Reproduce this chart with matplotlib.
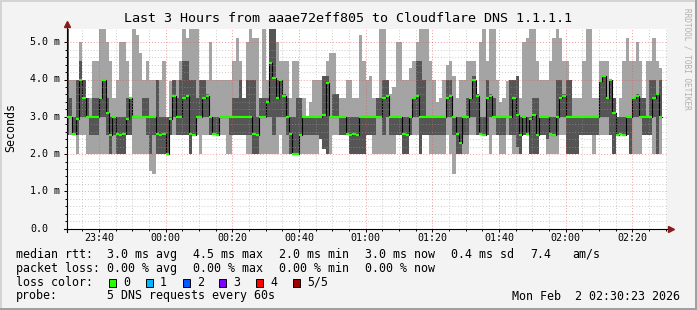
import numpy as np
import matplotlib
matplotlib.use("Agg")
import matplotlib.pyplot as plt
from matplotlib.patches import Rectangle
from matplotlib.transforms import blended_transform_factory

# one column per minute, first column = 23:30-23:31 (graph starts 23:30:23)
# values in ms; lo1/hi1 = outer (light) smoke, lo2/hi2 = inner (dark) smoke
med = [3.0, 3.0, 2.55, 2.95, 4.0, 3.5, 3.0, 3.0, 3.0, 3.0,
       3.5, 4.0, 3.1, 2.5, 3.0, 2.55, 2.5, 2.55, 2.95, 3.5,
       3.0, 3.0, 3.0, 3.0, 3.0, 3.0, 3.0, 2.55, 2.5, 2.55,
       2.0, 2.95, 3.55, 3.0, 3.0, 3.5, 3.55, 2.55, 2.5, 3.0,
       3.0, 3.5, 3.55, 3.0, 2.55, 2.5, 3.0, 3.0, 3.0, 3.0,
       3.0, 3.0, 3.0, 3.0, 3.0, 3.0, 2.55, 2.5, 3.0, 3.0,
       3.4, 4.45, 4.05, 3.5, 4.0, 3.55, 3.0, 2.55, 2.0, 2.0,
       2.5, 3.0, 3.0, 3.0, 3.0, 3.0, 3.0, 3.05, 3.9, 3.0,
       3.0, 3.0, 3.0, 3.0, 2.55, 2.5, 2.55, 2.5, 3.0, 3.0,
       3.0, 3.0, 3.0, 3.0, 3.0, 3.5, 3.55, 3.0, 3.0, 3.0,
       3.0, 2.55, 2.5, 3.0, 3.5, 3.55, 3.0, 3.0, 3.0, 3.0,
       3.0, 3.0, 3.0, 3.0, 3.5, 3.55, 3.0, 2.55, 2.3, 3.0,
       3.0, 3.5, 4.0, 3.55, 2.55, 2.5, 3.5, 3.55, 3.0, 3.0,
       3.0, 3.0, 3.0, 3.0, 3.5, 3.05, 2.5, 3.0, 2.55, 2.95,
       3.05, 2.5, 3.0, 3.0, 3.0, 2.55, 2.5, 3.0, 3.5, 3.55,
       3.0, 3.0, 3.0, 3.0, 3.0, 3.0, 3.0, 3.0, 3.0, 3.0,
       3.95, 4.1, 3.5, 4.0, 3.1, 2.5, 2.55, 2.5, 3.0, 3.0,
       3.5, 3.55, 3.0, 3.0, 3.0, 3.0, 3.5, 3.6, 3.0]

lo1 = [2.5, 2.5, 2.5, 2.0, 2.5, 2.5, 2.0, 2.0, 2.0, 2.0,
       2.0, 2.0, 2.0, 2.0, 2.0, 2.0, 2.0, 2.0, 2.5, 2.5,
       2.0, 2.0, 2.0, 2.0, 2.0, 1.55, 1.47, 2.0, 2.0, 2.0,
       2.0, 2.5, 2.5, 2.5, 2.5, 2.5, 2.5, 2.0, 2.5, 2.5,
       2.0, 2.5, 2.5, 2.5, 2.5, 2.5, 2.5, 2.5, 2.0, 2.0,
       2.5, 2.5, 2.5, 2.5, 2.0, 2.0, 2.0, 2.0, 2.0, 2.0,
       2.0, 2.0, 2.0, 2.0, 2.5, 2.0, 2.0, 2.0, 2.0, 2.0,
       2.0, 2.0, 2.0, 2.0, 2.0, 2.0, 2.4, 2.15, 2.0, 2.0,
       2.5, 2.5, 2.5, 2.5, 2.5, 2.0, 2.0, 2.0, 2.0, 2.0,
       2.5, 2.5, 2.0, 2.0, 2.0, 2.0, 2.0, 2.0, 2.0, 2.5,
       2.5, 2.0, 2.0, 2.5, 2.5, 2.5, 2.0, 2.5, 2.5, 2.0,
       2.0, 2.0, 2.0, 2.0, 2.5, 2.0, 1.47, 2.0, 2.0, 2.0,
       2.0, 2.5, 2.5, 2.5, 2.5, 2.5, 2.5, 2.0, 2.5, 2.5,
       2.0, 2.0, 2.5, 2.5, 2.0, 2.0, 2.0, 2.5, 2.5, 2.0,
       2.0, 2.0, 2.5, 2.5, 2.0, 2.0, 2.0, 2.0, 2.5, 2.5,
       2.0, 2.0, 2.0, 2.0, 2.5, 2.5, 2.5, 2.5, 2.0, 2.5,
       2.5, 2.5, 2.5, 2.5, 2.0, 2.5, 2.5, 2.5, 2.5, 2.0,
       2.0, 2.0, 2.0, 2.5, 2.5, 2.5, 2.0, 2.0, 2.0]

lo2 = [2.5, 3.0, 2.5, 2.5, 3.0, 3.0, 3.0, 2.5, 2.5, 2.5,
       3.0, 3.0, 2.5, 2.0, 2.5, 2.0, 2.0, 2.0, 2.5, 2.5,
       3.0, 3.0, 3.0, 3.0, 2.5, 2.0, 2.5, 2.0, 2.0, 2.0,
       2.0, 2.5, 3.0, 2.5, 2.5, 2.5, 2.5, 2.0, 2.5, 3.0,
       3.0, 3.0, 3.0, 2.5, 2.5, 2.5, 3.0, 3.0, 3.0, 2.5,
       2.5, 2.5, 2.5, 2.5, 2.5, 2.5, 2.0, 2.0, 3.0, 3.0,
       3.0, 3.0, 2.5, 3.0, 3.0, 3.0, 2.5, 2.0, 2.0, 2.0,
       2.5, 2.5, 2.5, 2.5, 2.5, 2.5, 2.4, 2.15, 2.0, 3.0,
       3.0, 3.0, 2.5, 2.5, 2.5, 2.0, 2.0, 2.0, 2.0, 2.0,
       2.5, 2.5, 2.5, 3.0, 3.0, 2.5, 3.0, 2.5, 2.5, 2.5,
       2.5, 2.0, 2.0, 2.5, 3.0, 3.0, 2.0, 2.5, 2.5, 2.5,
       2.5, 2.5, 2.5, 2.5, 3.0, 3.0, 2.5, 2.0, 2.0, 2.5,
       2.5, 3.0, 3.0, 2.5, 2.5, 2.5, 2.5, 3.0, 3.0, 2.5,
       2.5, 2.5, 3.0, 2.5, 2.5, 2.2, 2.0, 2.5, 2.5, 2.0,
       2.0, 2.0, 2.5, 2.5, 2.4, 2.5, 2.5, 2.5, 3.0, 3.0,
       2.0, 2.0, 2.0, 2.0, 2.5, 2.5, 2.5, 2.5, 2.5, 2.5,
       3.0, 3.0, 3.0, 2.5, 2.0, 2.5, 2.5, 2.5, 2.5, 2.0,
       3.0, 3.0, 3.0, 2.5, 2.5, 2.5, 3.0, 2.0, 3.0]

hi2 = [5.4, 3.5, 3.0, 4.0, 4.5, 4.0, 3.5, 3.0, 3.5, 3.5,
       3.5, 4.0, 3.5, 3.0, 3.0, 3.0, 3.0, 3.0, 3.5, 3.5,
       3.0, 3.0, 3.0, 3.5, 3.5, 3.0, 3.0, 4.0, 3.0, 3.0,
       3.0, 3.0, 4.0, 3.5, 4.0, 4.5, 4.5, 4.0, 4.0, 3.5,
       4.0, 4.0, 3.6, 3.0, 3.0, 3.0, 3.0, 3.0, 3.0, 3.0,
       3.5, 3.5, 4.0, 3.5, 4.0, 4.0, 4.0, 3.0, 3.5, 3.5,
       3.5, 5.4, 5.4, 4.0, 4.0, 3.6, 3.5, 3.0, 3.0, 3.5,
       3.5, 3.0, 3.0, 3.0, 3.0, 3.0, 3.0, 4.1, 4.1, 3.0,
       3.6, 3.6, 3.0, 3.0, 3.0, 3.0, 3.0, 3.0, 3.0, 3.0,
       3.0, 3.0, 3.0, 3.5, 3.5, 4.0, 4.0, 3.0, 3.0, 3.0,
       3.0, 3.0, 3.0, 3.0, 3.5, 4.5, 4.5, 4.0, 3.0, 3.0,
       3.0, 3.0, 3.0, 3.0, 4.0, 4.0, 3.0, 3.0, 3.0, 3.0,
       3.5, 3.5, 4.1, 3.6, 3.0, 3.0, 4.0, 3.6, 3.5, 3.0,
       3.0, 3.0, 3.0, 4.0, 4.0, 4.1, 3.0, 3.0, 3.0, 3.0,
       3.5, 3.5, 3.0, 3.0, 3.0, 3.0, 3.0, 4.0, 4.0, 3.6,
       4.0, 4.0, 3.0, 3.0, 3.0, 3.0, 3.0, 3.0, 3.0, 3.0,
       4.0, 4.1, 3.5, 4.0, 3.5, 3.0, 3.0, 3.0, 3.0, 3.0,
       3.5, 3.6, 3.5, 3.5, 3.0, 4.0, 4.0, 3.6, 4.0]

hi1 = [5.4, 4.0, 4.0, 4.0, 5.0, 4.0, 3.5, 3.5, 4.5, 4.5,
       5.4, 5.4, 5.0, 4.5, 3.5, 4.0, 5.0, 5.0, 4.5, 3.5,
       5.4, 5.2, 4.7, 4.0, 4.5, 4.0, 4.0, 4.0, 4.0, 4.5,
       3.0, 3.95, 4.0, 4.0, 4.5, 5.4, 5.1, 5.4, 5.4, 5.4,
       4.0, 4.0, 4.0, 5.0, 4.0, 4.0, 4.0, 4.0, 4.0, 4.0,
       4.5, 5.1, 4.5, 3.5, 5.0, 5.4, 5.1, 5.1, 3.5, 5.4,
       4.0, 5.4, 5.4, 5.0, 4.5, 4.5, 4.5, 3.5, 4.5, 4.5,
       3.5, 3.5, 3.0, 3.4, 4.0, 4.0, 4.0, 4.1, 4.5, 4.7,
       4.7, 3.6, 3.5, 3.5, 4.0, 4.0, 3.5, 3.5, 5.2, 4.5,
       4.0, 4.1, 3.5, 3.5, 5.4, 5.4, 4.0, 3.6, 3.8, 5.0,
       5.0, 4.0, 4.0, 4.3, 4.5, 5.0, 5.4, 5.4, 5.4, 4.5,
       4.0, 3.4, 3.5, 4.0, 4.4, 4.5, 4.1, 3.5, 4.0, 4.0,
       4.5, 4.5, 4.5, 3.6, 5.0, 5.4, 4.5, 5.4, 5.4, 4.0,
       3.4, 3.5, 3.95, 4.0, 4.0, 4.1, 3.5, 5.0, 5.1, 5.4,
       5.4, 4.5, 4.0, 4.0, 4.0, 4.5, 5.1, 5.4, 5.1, 4.5,
       4.5, 4.0, 3.5, 3.5, 3.5, 4.5, 5.4, 5.4, 3.5, 3.5,
       4.5, 4.5, 4.5, 4.0, 3.5, 3.0, 3.5, 4.5, 5.1, 4.5,
       4.5, 5.0, 4.5, 3.5, 4.5, 4.5, 5.1, 4.5, 4.3]

time_labels = ["23:40", "00:00", "00:20", "00:40", "01:00", "01:20", "01:40", "02:00", "02:20"]
y_labels = ["0.0", "1.0 m", "2.0 m", "3.0 m", "4.0 m", "5.0 m"]

legend_rows = [
    [(16, "median rtt:"), (107, "3.0 ms avg"), (193, "4.5 ms max"), (279, "2.0 ms min"),
     (365, "3.0 ms now"), (451, "0.4 ms sd"), (530, "7.4"), (572, "am/s")],
    [(16, "packet loss:"), (107, "0.00 % avg"), (193, "0.00 % max"), (279, "0.00 % min"),
     (365, "0.00 % now")],
]
loss_names = ["0", "1", "2", "3", "4", "5/5"]
loss_colors = ["#26ff00", "#00b8ff", "#0059ff", "#7e00ff", "#ff0000", "#a10000"]

W, H = 697, 310
MONO = "DejaVu Sans Mono"
plt.rcParams["font.family"] = MONO

fig = plt.figure(figsize=(W / 100, H / 100), dpi=100)
fig.patch.set_facecolor("#f3f3f3")
ax = fig.add_axes([67 / W, 1 - 228.7 / H, 600 / W, 200 / H])
ax.set_facecolor("white")
ymax = 200 / 37.3
ax.set_xlim(0, 180)
ax.set_ylim(0, ymax)

off = 23 / 60  # graph starts at 23:30:23
edges = np.arange(len(med) + 1) - off
ext = lambda a: np.r_[a, a[-1]]

ax.fill_between(edges, ext(lo1), ext(hi1), step="post", color="#a4a4a4", lw=0, zorder=1)
ax.fill_between(edges, ext(lo2), ext(hi2), step="post", color="#555555", lw=0, zorder=1.1)
ax.step(edges, ext(med), where="post", color="black", lw=0.8, zorder=2)
ax.hlines(med, edges[:-1], edges[1:], colors="#26ff00", lw=1.6, zorder=4)

# grid
major_x = 10 * np.arange(1, 18) - off
major_x = major_x[::2]
minor_x = 5 * np.arange(1, 37) - off
ax.set_xticks(major_x)
ax.set_xticks(minor_x, minor=True)
ax.set_yticks(np.arange(0, 6))
ax.set_yticks(np.arange(0, 26) * 0.2, minor=True)
ax.set_axisbelow(False)
ax.grid(which="minor", color="#a0a0a0", alpha=0.55, ls=(0, (1, 2)), lw=0.7)
ax.grid(which="major", color="#e05050", alpha=0.55, ls=(0, (1, 2)), lw=0.7)
ax.tick_params(which="both", labelleft=False, labelbottom=False, direction="out",
               color="black", width=0.7)
ax.tick_params(which="major", length=2.2)
ax.tick_params(which="minor", length=1.4)
for s in ax.spines.values():
    s.set_visible(False)

# axes with arrows
ax.plot([0, 0], [-0.015, 1.02], transform=ax.transAxes, color="black", lw=0.8, clip_on=False)
ax.plot([-0.005, 1.003], [0, 0], transform=ax.transAxes, color="black", lw=0.8, clip_on=False)
ax.plot([0], [1.025], marker="^", ms=4.5, color="#8b1a1a", transform=ax.transAxes, clip_on=False)
ax.plot([1.006], [0], marker=">", ms=4.5, color="#8b1a1a", transform=ax.transAxes, clip_on=False)

# tick labels
tx = blended_transform_factory(ax.transData, fig.transFigure)
for xv, lab in zip(major_x, time_labels):
    ax.text(xv, 1 - 237.7 / H, lab, transform=tx, ha="center", va="center", fontsize=7.2)
ty = blended_transform_factory(fig.transFigure, ax.transData)
for yv, lab in enumerate(y_labels):
    ax.text(30 / W, yv, lab, transform=ty, ha="left", va="center", fontsize=7.2)

fig.text(348.5 / W, 1 - 19 / H, "Last 3 Hours from aaae72eff805 to Cloudflare DNS 1.1.1.1",
         ha="center", va="center", fontsize=9.6)
fig.text(11 / W, 1 - 127.5 / H, "Seconds", rotation=90, ha="center", va="center", fontsize=8.4)
fig.text(687.5 / W, 1 - 59 / H, "RRDTOOL / TOBI OETIKER", rotation=270, ha="center",
         va="center", fontsize=5.6, color="#b0b0b0")

# legend
for row, ypx in zip(legend_rows, [254.3, 268.3]):
    for xpx, s in row:
        fig.text(xpx / W, 1 - ypx / H, s, ha="left", va="center", fontsize=8.4)
fig.text(16 / W, 1 - 282.3 / H, "loss color:", ha="left", va="center", fontsize=8.4)
for i, (name, col) in enumerate(zip(loss_names, loss_colors)):
    bx = 108.7 + i * 36.9
    fig.add_artist(Rectangle((bx / W, 1 - 286.5 / H), 7 / W, 8 / H, transform=fig.transFigure,
                             facecolor=col, edgecolor="black", lw=0.7))
    fig.text((bx + 14.3) / W, 1 - 282.3 / H, name, ha="left", va="center", fontsize=8.4)
fig.text(16 / W, 1 - 296 / H, "probe:", ha="left", va="center", fontsize=8.4)
fig.text(107 / W, 1 - 296 / H, "5 DNS requests every 60s", ha="left", va="center", fontsize=8.4)
fig.text(680 / W, 1 - 296 / H, "Mon Feb  2 02:30:23 2026", ha="right", va="center", fontsize=8.4)

# 3d-ish border
fig.add_artist(Rectangle((0, 1 - 2 / H), 1, 2 / H, transform=fig.transFigure, color="#d4d4d4", lw=0))
fig.add_artist(Rectangle((0, 0), 2 / W, 1, transform=fig.transFigure, color="#d4d4d4", lw=0))
fig.add_artist(Rectangle((0, 0), 1, 2 / H, transform=fig.transFigure, color="#a0a0a0", lw=0))
fig.add_artist(Rectangle((1 - 2 / W, 0), 2 / W, 1, transform=fig.transFigure, color="#a0a0a0", lw=0))

fig.savefig("out.png", dpi=100, facecolor=fig.get_facecolor())
